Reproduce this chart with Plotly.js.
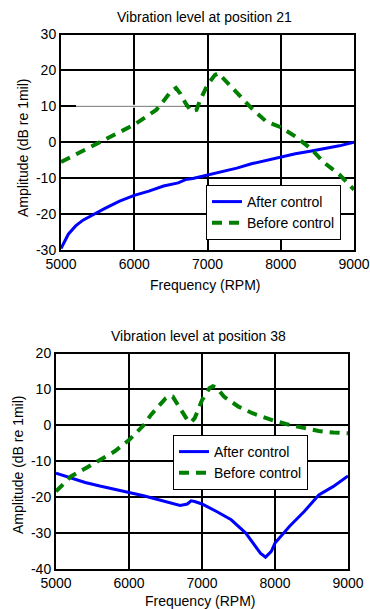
<!DOCTYPE html>
<html>
<head>
<meta charset="utf-8">
<script src="https://cdn.plot.ly/plotly-3.0.1.min.js"></script>
<style>html,body{margin:0;padding:0;background:#fff;}#chart{width:370px;height:609px;}</style>
</head>
<body>
<div id="chart"></div>
<script>
// ---- Position 21 ----
const freqAfter21 = [5000, 5050, 5100, 5200, 5300, 5400, 5500, 5600, 5800, 6000, 6200, 6400, 6600, 6700, 6800, 7000, 7200, 7400, 7600, 7800, 8000, 8200, 8400, 8600, 8800, 9000];
const after21 = [-29.6, -27.5, -25.6, -23.3, -21.7, -20.6, -19.4, -18.4, -16.4, -14.8, -13.6, -12.2, -11.3, -10.4, -10.1, -9.2, -8.1, -7.2, -6.0, -5.0, -4.1, -3.2, -2.5, -1.8, -1.0, 0.0];
const freqBefore21 = [5000, 5250, 5500, 5750, 6000, 6150, 6300, 6400, 6500, 6570, 6630, 6700, 6780, 6850, 6900, 7000, 7100, 7150, 7200, 7300, 7400, 7600, 7800, 8000, 8200, 8400, 8600, 8800, 9000];
const before21 = [-5.5, -2.8, -0.3, 2.3, 4.9, 7.0, 9.0, 11.5, 14.1, 15.1, 13.5, 10.9, 8.6, 9.0, 11.8, 16.0, 18.7, 19.2, 18.1, 15.8, 13.6, 9.5, 5.8, 4.2, 1.6, -1.6, -5.8, -9.0, -13.2];

// ---- Position 38 ----
const freqAfter38 = [5000, 5200, 5400, 5600, 5800, 6000, 6200, 6400, 6600, 6700, 6800, 6850, 6900, 7000, 7200, 7400, 7600, 7700, 7800, 7870, 7950, 8000, 8200, 8400, 8500, 8600, 8800, 9000];
const after38 = [-13.3, -14.7, -15.9, -16.9, -17.7, -18.7, -19.6, -20.7, -21.9, -22.3, -21.9, -21.0, -21.2, -21.9, -24.0, -26.3, -30.0, -32.8, -35.6, -36.7, -35.1, -32.8, -28.1, -24.0, -21.7, -19.4, -17.0, -14.1];
const freqBefore38 = [5000, 5200, 5400, 5600, 5800, 6000, 6100, 6200, 6300, 6400, 6500, 6550, 6600, 6700, 6800, 6850, 6900, 7000, 7100, 7150, 7200, 7300, 7500, 7700, 7900, 8000, 8200, 8400, 8600, 8800, 9000];
const before38 = [-18.4, -14.3, -12.0, -9.6, -7.3, -4.1, -2.2, 0.0, 2.9, 5.2, 7.5, 8.2, 8.0, 4.7, 1.5, 0.8, 2.0, 7.0, 10.3, 10.9, 10.5, 8.0, 5.2, 3.3, 1.8, 1.2, 0.1, -0.8, -1.6, -2.0, -2.2];

const seriesNames = ['After control', 'Before control'];
const titles = ['Vibration level at position 21', 'Vibration level at position 38'];
const xTitle = 'Frequency (RPM)';
const yTitle = 'Amplitude (dB re 1mil)';
const xTicks = [5000, 6000, 7000, 8000, 9000];
const yTicks21 = [-30, -20, -10, 0, 10, 20, 30];
const yTicks38 = [-40, -30, -20, -10, 0, 10, 20];

const FONT = 'Liberation Sans, Arial, Helvetica, sans-serif';
const W = 370, H = 609;
const px = v => v / W;
const py = v => (H - v) / H;

const blue = '#0000ff', green = '#007f00';

const traces = [
  {x: freqAfter21, y: after21, name: seriesNames[0], xaxis: 'x', yaxis: 'y', mode: 'lines', line: {color: blue, width: 3}, legend: 'legend'},
  {x: freqBefore21, y: before21, name: seriesNames[1], xaxis: 'x', yaxis: 'y', mode: 'lines', line: {color: green, width: 4, dash: '10px,7px'}, legend: 'legend'},
  {x: freqAfter38, y: after38, name: seriesNames[0], xaxis: 'x2', yaxis: 'y2', mode: 'lines', line: {color: blue, width: 3}, legend: 'legend2'},
  {x: freqBefore38, y: before38, name: seriesNames[1], xaxis: 'x2', yaxis: 'y2', mode: 'lines', line: {color: green, width: 4, dash: '10px,7px'}, legend: 'legend2'}
];

function xax(domain, anchor) {
  return {domain: domain, anchor: anchor, range: [5000, 9000], tickvals: xTicks, ticktext: xTicks.map(String),
    showgrid: true, gridcolor: '#000', gridwidth: 2, zeroline: false, showline: true, linecolor: '#000', linewidth: 2,
    mirror: true, ticks: '', tickfont: {family: FONT, size: 14, color: '#000'}, fixedrange: true};
}
function yax(domain, anchor, range, ticks) {
  return {domain: domain, anchor: anchor, range: range, tickvals: ticks, ticktext: ticks.map(String),
    showgrid: true, gridcolor: '#000', gridwidth: 2, zeroline: false, showline: true, linecolor: '#000', linewidth: 2,
    mirror: true, ticks: '', tickfont: {family: FONT, size: 14, color: '#000'}, fixedrange: true};
}

const legendCommon = {font: {family: FONT, size: 14, color: '#000'}, bgcolor: '#fff', bordercolor: '#000', borderwidth: 1,
  xref: 'paper', yref: 'paper', xanchor: 'left', yanchor: 'top', tracegroupgap: 0};

const layout = {
  width: W, height: H, autosize: false,
  margin: {l: 0, r: 0, t: 0, b: 0, pad: 0},
  paper_bgcolor: '#fff', plot_bgcolor: '#fff',
  font: {family: FONT, size: 14, color: '#000'},
  xaxis: xax([px(61), px(354)], 'y'),
  yaxis: yax([py(250), py(34.5)], 'x', [-30, 30], yTicks21),
  xaxis2: xax([px(56), px(348)], 'y2'),
  yaxis2: yax([py(569), py(353.5)], 'x2', [-40, 20], yTicks38),
  legend: Object.assign({}, legendCommon, {x: px(206), y: py(185)}),
  legend2: Object.assign({}, legendCommon, {x: px(173), y: py(435)}),
  shapes: [
    {type: 'line', xref: 'x', yref: 'y', x0: 5205, x1: 6693, y0: 10, y1: 10, layer: 'between', line: {color: '#fff', width: 3}},
    {type: 'line', xref: 'x', yref: 'y', x0: 5205, x1: 6693, y0: 10, y1: 10, layer: 'between', line: {color: '#777', width: 1}}
  ],
  annotations: [
    {text: titles[0], xref: 'paper', yref: 'paper', x: px(204), y: py(17), showarrow: false, font: {family: FONT, size: 14}, xanchor: 'center', yanchor: 'middle'},
    {text: titles[1], xref: 'paper', yref: 'paper', x: px(199), y: py(336), showarrow: false, font: {family: FONT, size: 14}, xanchor: 'center', yanchor: 'middle'},
    {text: xTitle, xref: 'paper', yref: 'paper', x: px(205), y: py(285), showarrow: false, font: {family: FONT, size: 14}, xanchor: 'center', yanchor: 'middle'},
    {text: xTitle, xref: 'paper', yref: 'paper', x: px(200), y: py(601), showarrow: false, font: {family: FONT, size: 14}, xanchor: 'center', yanchor: 'middle'},
    {text: yTitle, xref: 'paper', yref: 'paper', x: px(23), y: py(148), showarrow: false, textangle: -90, font: {family: FONT, size: 14}, xanchor: 'center', yanchor: 'middle'},
    {text: yTitle, xref: 'paper', yref: 'paper', x: px(18), y: py(465), showarrow: false, textangle: -90, font: {family: FONT, size: 14}, xanchor: 'center', yanchor: 'middle'}
  ]
};

Plotly.newPlot('chart', traces, layout, {displayModeBar: false, staticPlot: true});
</script>
</body>
</html>
